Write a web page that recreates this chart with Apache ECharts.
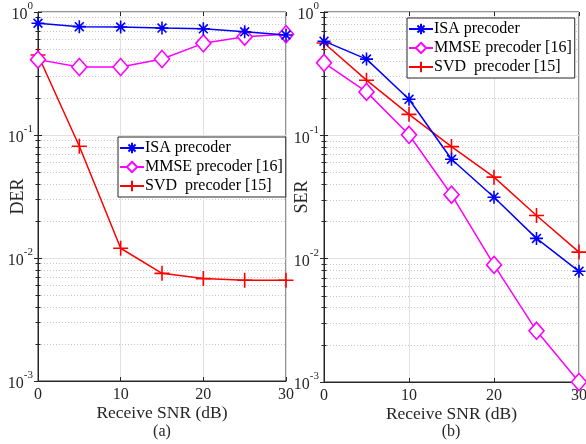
<!DOCTYPE html>
<html><head><meta charset="utf-8">
<script src="https://cdn.jsdelivr.net/npm/echarts@6/dist/echarts.min.js"></script>
<style>html,body{margin:0;padding:0;background:#fff}#c{width:586px;height:444px}</style>
</head><body><div id="c"></div>
<script>
const snr = [0, 5, 10, 15, 20, 25, 30];
const derISA  = [0.81, 0.76, 0.755, 0.74, 0.73, 0.69, 0.65];
const derMMSE = [0.41, 0.357, 0.357, 0.415, 0.556, 0.63, 0.66];
const derSVD  = [0.447, 0.081, 0.012, 0.0075, 0.0068, 0.0066, 0.0066];
const serISA  = [0.58, 0.415, 0.196, 0.064, 0.0315, 0.0146, 0.0079];
const serMMSE = [0.387, 0.225, 0.101, 0.033, 0.0089, 0.0026, 0.001];
const serSVD  = [0.56, 0.28, 0.148, 0.081, 0.0458, 0.0224, 0.0113];
const names = ['ISA precoder', 'MMSE precoder [16]', 'SVD  precoder [15]'];

const FONT = 'Liberation Serif';
const TXT = '#262626';
const STAR = 'path://M5,0L5,10M0,5L10,5M1.6,1.6L8.4,8.4M1.6,8.4L8.4,1.6';
const PLUS = 'path://M5,0L5,10M0,5L10,5';
const colors = ['#0000ff', '#ff00ff', '#ff0000'];
const symbols = [STAR, 'diamond', PLUS];
const symSizes = [[13,13], [15,17], [15,15]];

const chart = echarts.init(document.getElementById('c'), null, {renderer: 'canvas'});

function mkX(gi) {
  return {
    type: 'value', gridIndex: gi, min: 0, max: 30, interval: 10,
    axisLine: {show: true, lineStyle: {color: TXT, width: 1}},
    axisTick: {show: true, inside: true, length: 4, lineStyle: {color: TXT}},
    axisLabel: {color: TXT, fontFamily: FONT, fontSize: 16, margin: 6},
    splitLine: {show: true, lineStyle: {color: '#e0e0e0', width: 1}},
    name: 'Receive SNR (dB)', nameLocation: 'middle', nameGap: 23, nameMoveOverlap: false,
    nameTextStyle: {color: TXT, fontFamily: FONT, fontSize: 17.5}
  };
}
function mkXTop(gi) {
  return {
    type: 'value', gridIndex: gi, position: 'top', min: 0, max: 30, interval: 10,
    axisLine: {show: false},
    axisTick: {show: true, inside: true, length: 4, lineStyle: {color: TXT}},
    axisLabel: {show: false}, splitLine: {show: false}
  };
}
function mkY(gi, nm, gap) {
  return {
    type: 'log', logBase: 10, gridIndex: gi, min: 0.001, max: 1,
    axisLine: {show: true, lineStyle: {color: TXT, width: 1}},
    axisTick: {show: true, inside: true, length: 4, lineStyle: {color: TXT}},
    minorTick: {show: true, splitNumber: 9, length: 2.5, lineStyle: {color: TXT}},
    minorSplitLine: {show: true, lineStyle: {color: '#c8c8c8', type: [1, 2], width: 1}},
    axisLabel: {color: TXT, fontFamily: FONT, margin: 5,
      formatter: function (v) { const e = Math.round(Math.log10(v)); return '{b|10}{s|' + e + '}'; },
      rich: {
        b: {fontSize: 16, fontFamily: FONT, color: TXT, lineHeight: 22, verticalAlign: 'bottom'},
        s: {fontSize: 11, fontFamily: FONT, color: TXT, lineHeight: 11, verticalAlign: 'top'}
      }},
    splitLine: {show: true, lineStyle: {color: '#e0e0e0', width: 1}},
    name: nm, nameLocation: 'middle', nameGap: gap, nameMoveOverlap: false,
    nameTextStyle: {color: TXT, fontFamily: FONT, fontSize: 18}
  };
}
function mkYRight(gi) {
  return {
    type: 'log', logBase: 10, gridIndex: gi, position: 'right', min: 0.001, max: 1,
    axisLine: {show: false},
    axisTick: {show: true, inside: true, length: 4, lineStyle: {color: TXT}},
    minorTick: {show: true, splitNumber: 9, length: 2.5, lineStyle: {color: TXT}},
    axisLabel: {show: false}, splitLine: {show: false}, minorSplitLine: {show: false}
  };
}
function mkSeries(gi, data, k) {
  return {
    name: names[k], type: 'line', xAxisIndex: gi, yAxisIndex: gi,
    data: snr.map((x, i) => [x, data[i]]),
    symbol: symbols[k], symbolSize: symSizes[k], showAllSymbol: true,
    clip: false, z: 10 - k,
    lineStyle: {color: colors[k], width: 1.5},
    itemStyle: {color: k === 1 ? '#ffffff' : 'none', borderColor: colors[k], borderWidth: 1.6},
    emphasis: {disabled: true}
  };
}
function mkLegend(left, top) {
  return {
    orient: 'vertical', left: left, top: top,
    data: names, itemWidth: 24, itemHeight: 13, itemGap: 1,
    padding: [2, 3, 2, 1],
    backgroundColor: '#ffffff', borderColor: TXT, borderWidth: 1, borderRadius: 0,
    textStyle: {fontFamily: FONT, fontSize: 16, color: '#000', padding: [0, 0, 0, -4], lineHeight: 18},
    selectedMode: false
  };
}

chart.setOption({
  animation: false,
  backgroundColor: '#ffffff',
  grid: [
    {left: 38, top: 12, width: 248, height: 369, outerBoundsMode: 'none', containLabel: false, show: true, borderColor: TXT, borderWidth: 1, backgroundColor: 'transparent'},
    {left: 324, top: 12, width: 255, height: 370, outerBoundsMode: 'none', containLabel: false, show: true, borderColor: TXT, borderWidth: 1, backgroundColor: 'transparent'}
  ],
  xAxis: [mkX(0), mkX(1), mkXTop(0), mkXTop(1)],
  yAxis: [mkY(0, 'DER', 11), mkY(1, 'SER', 13), mkYRight(0), mkYRight(1)],
  legend: [mkLegend(118, 137), mkLegend(407, 18)],
  title: [
    {text: '(a)', left: 162, top: 424, textAlign: 'center', textStyle: {fontFamily: FONT, fontSize: 16, fontWeight: 'normal', color: TXT}, padding: 0},
    {text: '(b)', left: 451, top: 424, textAlign: 'center', textStyle: {fontFamily: FONT, fontSize: 16, fontWeight: 'normal', color: TXT}, padding: 0}
  ],
  series: [
    mkSeries(0, derISA, 0), mkSeries(0, derMMSE, 1), mkSeries(0, derSVD, 2),
    mkSeries(1, serISA, 0), mkSeries(1, serMMSE, 1), mkSeries(1, serSVD, 2)
  ]
});
</script></body></html>
